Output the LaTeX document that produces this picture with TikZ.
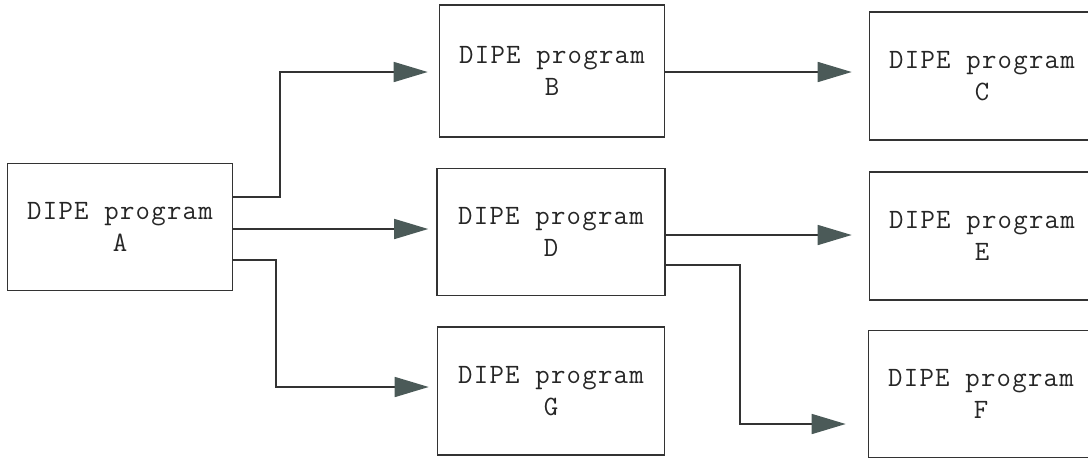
\documentclass[tikz,border=0pt]{standalone}
\usepackage{fontspec}
\newfontfamily\progfont[LetterSpace=4.5]{Latin Modern Mono}
\usetikzlibrary{arrows.meta}
\definecolor{linegray}{HTML}{333333}
\definecolor{tipgray}{HTML}{4B5A58}
\tikzset{
  prog/.style={draw=linegray, line width=1.6pt, rectangle, minimum width=225pt,
    minimum height=128pt, align=center, inner sep=0pt,
    font=\progfont\fontsize{28}{32}\selectfont, text=black!85},
  conn/.style={draw=linegray, line width=1.6pt,
    -{Triangle[length=34pt,width=20pt,fill=tipgray,color=tipgray]}}
}
\begin{document}
\begin{tikzpicture}[x=1pt,y=-1pt]
  \useasboundingbox (0,0) rectangle (1088,459);
  \begin{scope}
    \clip (0,0) rectangle (1088,459);
    % program boxes
    \node[prog, minimum height=127pt] (A) at (120,227) {DIPE program\\A};
    \node[prog, minimum height=132pt] (B) at (552,71) {DIPE program\\B};
    \node[prog, minimum width=228pt, minimum height=127pt] (D) at (551,232) {DIPE program\\D};
    \node[prog, minimum width=227pt] (G) at (551,391) {DIPE program\\G};
    \node[prog] (C) at (982,76) {DIPE program\\C};
    \node[prog] (E) at (982,236) {DIPE program\\E};
    \node[prog, minimum height=127pt] (F) at (981,394) {DIPE program\\F};
  \end{scope}
  % routing levels
  \coordinate (ya1) at (0,197);
  \coordinate (ya2) at (0,229);
  \coordinate (ya3) at (0,260);
  \coordinate (xa1) at (280,0);
  \coordinate (xa3) at (276,0);
  \coordinate (yb) at (0,72);
  \coordinate (yg) at (0,387);
  \coordinate (yd1) at (0,235);
  \coordinate (yd2) at (0,265);
  \coordinate (xd) at (740,0);
  \coordinate (yf) at (0,424);
  % connectors
  \draw[conn, shorten >=11pt] (A.east |- ya1) -- (xa1 |- ya1) |- (B.west |- yb);
  \draw[conn, shorten >=8pt] (A.east |- ya2) -- (D.west |- ya2);
  \draw[conn, shorten >=8pt] (A.east |- ya3) -- (xa3 |- ya3) |- (G.west |- yg);
  \draw[conn, shorten >=17pt] (B.east |- yb) -- (C.west |- yb);
  \draw[conn, shorten >=17pt] (D.east |- yd1) -- (E.west |- yd1);
  \draw[conn, shorten >=22pt] (D.east |- yd2) -- (xd |- yd2) |- (F.west |- yf);
\end{tikzpicture}
\end{document}
